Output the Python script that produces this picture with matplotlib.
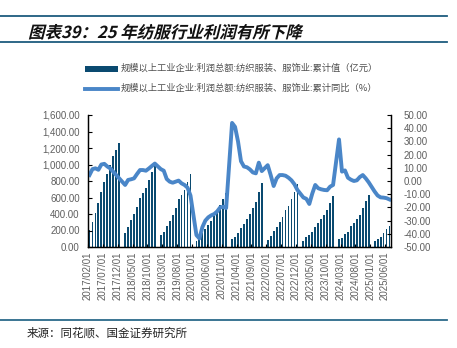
import numpy as np
import pandas as pd
import matplotlib
matplotlib.use('Agg')
from matplotlib import pyplot as plt
from matplotlib.lines import Line2D
from matplotlib.patches import Rectangle, PathPatch
from matplotlib.textpath import TextPath
from matplotlib.font_manager import FontProperties
from matplotlib.transforms import Affine2D

plt.rcParams['font.family'] = ['Liberation Sans', 'Noto Sans CJK SC', 'DejaVu Sans']

# cumulative profit (亿元), Feb..Dec of each year (Jan is not published)
profit_2017 = [206, 307, 408, 529, 670, 791, 885, 1000, 1100, 1176, 1262]
profit_2018 = [166, 246, 327, 400, 489, 590, 651, 711, 812, 913, 1014]
profit_2019 = [145, 186, 255, 315, 388, 469, 578, 630, 691, 792, 885]
profit_2020 = [70, 115, 170, 220, 265, 320, 380, 440, 505, 578, 651]
profit_2021 = [98, 125, 174, 226, 279, 335, 400, 469, 549, 665, 780]
profit_2022 = [85, 133, 198, 246, 307, 367, 448, 497, 578, 670, 764]
profit_2023 = [77, 125, 145, 186, 246, 287, 335, 388, 448, 537, 618]
profit_2024 = [93, 113, 154, 186, 255, 295, 339, 388, 469, 561, 630]
profit_2025 = [70, 93, 125, 168, 214, 255]

# cumulative YoY (%), same months
yoy_2017 = [4.5, 9.0, 9.6, 8.5, 12.5, 13.0, 11.0, 9.5, 7.0, 4.5, 2.0]
yoy_2018 = [-3.0, 0.8, 1.3, 2.0, 5.3, 8.3, 8.3, 7.8, 9.5, 11.4, 13.2]
yoy_2019 = [9.0, 7.8, 1.5, -0.5, -1.3, -0.5, 0.3, -1.8, -3.0, -5.0, -11.0]
yoy_2020 = [-41.0, -43.5, -35.0, -30.0, -27.5, -26.0, -25.0, -23.0, -20.0, -19.5, -20.5]
yoy_2021 = [44.0, 41.0, 30.0, 15.0, 11.0, 10.4, 8.8, 6.5, 5.8, 13.9, 7.5]
yoy_2022 = [12.0, 4.5, -3.8, 2.0, 4.5, 4.5, 4.0, 2.5, 0.5, -2.5, -6.8]
yoy_2023 = [-12.5, -13.5, -17.4, -9.5, -3.0, -5.5, -6.3, -6.8, -7.0, -4.3, -3.0]
yoy_2024 = [31.5, 7.1, 8.0, 2.5, 1.0, 0.0, 0.5, 3.0, 4.5, 2.0, -1.0]
yoy_2025 = [-8.0, -11.0, -12.4, -12.6, -13.0, -14.0]

months = pd.date_range('2017-02-01', '2025-07-01', freq='MS')
profit_by_year = dict(zip(range(2017, 2026), [profit_2017, profit_2018, profit_2019, profit_2020,
                                              profit_2021, profit_2022, profit_2023, profit_2024, profit_2025]))
yoy_by_year = dict(zip(range(2017, 2026), [yoy_2017, yoy_2018, yoy_2019, yoy_2020,
                                           yoy_2021, yoy_2022, yoy_2023, yoy_2024, yoy_2025]))

bars = []
line = []
for m in months:
    if m.month == 1:
        bars.append(np.nan)
        line.append(np.nan)
    else:
        bars.append(profit_by_year[m.year][m.month - 2])
        line.append(yoy_by_year[m.year][m.month - 2])
bars = np.array(bars, dtype=float)
line = np.array(line, dtype=float)
x = np.arange(len(months)) + 0.5
ok = ~np.isnan(line)

bar_color = '#0a4a70'
line_color = '#4a86c8'
grey = '#5f5f5f'

W, H = 457, 348
fig = plt.figure(figsize=(W / 100, H / 100), dpi=100)
ax = fig.add_axes([88 / W, 1 - 247 / H, (391 - 88) / W, (247 - 115) / H])

ax.bar(x, bars, width=0.62, color=bar_color)
ax.set_xlim(0, len(months))
ax.set_ylim(0, 1600)
ax.set_yticks(np.arange(0, 1601, 200))
ax.set_yticklabels(['{:,.2f}'.format(v) for v in np.arange(0, 1601, 200)])
tick_pos = np.arange(0, len(months), 5)
ax.set_xticks(tick_pos)
ax.set_xticklabels([months[i].strftime('%Y/%m/%d') for i in tick_pos], rotation=90)

ax2 = ax.twinx()
ax2.plot(x[ok], line[ok], color=line_color, lw=2.8, solid_joinstyle='round')
ax2.set_ylim(-50, 50)
ax2.set_yticks(np.arange(-50, 51, 10))
ax2.set_yticklabels(['{:.2f}'.format(v) for v in np.arange(-50, 51, 10)])

for a in (ax, ax2):
    a.spines['top'].set_visible(False)
    for s in ('left', 'right', 'bottom'):
        a.spines[s].set_linewidth(0.9)
        a.spines[s].set_color('black')
    a.tick_params(axis='y', direction='in', length=3, width=0.8, labelsize=7, labelcolor=grey, pad=6)
ax2.tick_params(axis='y', pad=9)
ax.tick_params(axis='x', direction='in', length=2, width=0.8, labelsize=7, labelcolor=grey, pad=3)

# header / footer rules
for yy, c in ((16, '#1d5c7e'), (42, '#1d5c7e'), (320, '#2b6a8a')):
    fig.add_artist(Line2D([0, 447 / W], [1 - yy / H] * 2, transform=fig.transFigure, color=c, lw=1.3))

# title, slanted like the original
fp = FontProperties(family='Noto Sans CJK SC', weight='bold')
tp = TextPath((0, 0), '图表39：25 年纺服行业利润有所下降', size=16.5, prop=fp)
title = PathPatch(tp, transform=Affine2D().skew_deg(14, 0).translate(28, H - 38), color='#111111', lw=0)
fig.add_artist(title)

# legend
fig.add_artist(Rectangle((85 / W, 1 - 71.5 / H), 33 / W, 5.5 / H, transform=fig.transFigure,
                         color=bar_color, lw=0))
fig.add_artist(Line2D([85 / W, 118 / W], [1 - 88.5 / H] * 2, transform=fig.transFigure,
                      color=line_color, lw=2.8))
fig.text(121 / W, 1 - 68.5 / H, '规模以上工业企业:利润总额:纺织服装、服饰业:累计值（亿元）',
         fontsize=6.7, va='center', color='#505050', family=['Noto Sans CJK SC', 'DejaVu Sans'])
fig.text(121 / W, 1 - 88.5 / H, '规模以上工业企业:利润总额:纺织服装、服饰业:累计同比（%）',
         fontsize=6.7, va='center', color='#505050', family=['Noto Sans CJK SC', 'DejaVu Sans'])

fig.text(27 / W, 1 - 333 / H, '来源：同花顺、国金证券研究所', fontsize=8.3, va='center',
         color='#222222', family=['Noto Sans CJK SC', 'DejaVu Sans'])

fig.savefig('out.png', dpi=100)
